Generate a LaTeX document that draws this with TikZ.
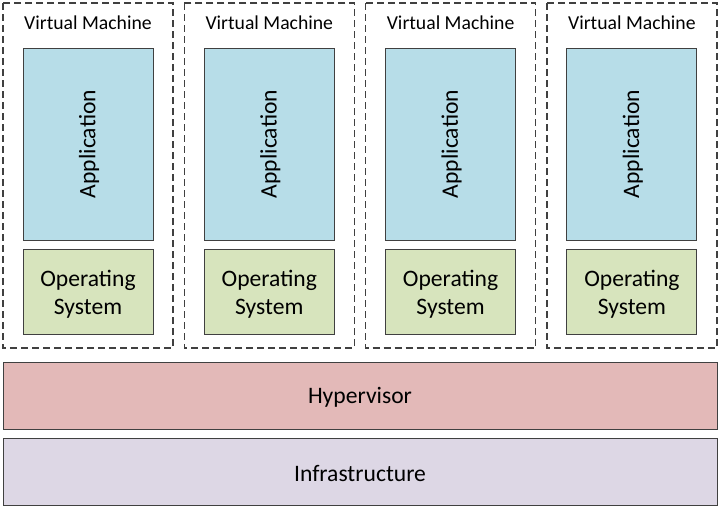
\documentclass[tikz,border=0pt]{standalone}
\usepackage{fontspec}
\setmainfont{Carlito}
\definecolor{appfill}{HTML}{B7DDE8}
\definecolor{osfill}{HTML}{D7E4BD}
\definecolor{hypfill}{HTML}{E3B9B8}
\definecolor{infill}{HTML}{DDD7E5}
\definecolor{edge}{HTML}{404040}
\begin{document}
\begin{tikzpicture}[x=1pt,y=-1pt,
  vmbox/.style={draw=edge,line width=1.3pt,dash pattern=on 7pt off 4pt,fill=white},
  layer/.style={draw=edge,line width=1pt},
  big/.style={font=\fontsize{23.6}{28}\selectfont},
  small/.style={font=\fontsize{19.7}{22}\selectfont}]
\useasboundingbox (0,0) rectangle (720,509);
\fill[white] (0,0) rectangle (720,509);
\foreach \i/\x in {1/3,2/184.3,3/365.6,4/546.9}{
  \draw[vmbox] (\x,3) rectangle ++(170,345);
  \node[small,anchor=center] (vm\i) at (\x+85,23) {Virtual Machine};
  \draw[layer,fill=appfill] (\x+20,48) rectangle ++(130,192);
  \node[big,rotate=90] (app\i) at (\x+86,144) {Application};
  \draw[layer,fill=osfill] (\x+20,249) rectangle ++(130,85);
  \node[big,align=center,text width=125pt] (os\i) at (\x+85,294) {Operating\\System};
}
\draw[layer,fill=hypfill] (3,362) rectangle (717,429);
\node[big] (hyp) at (360,397) {Hypervisor};
\draw[layer,fill=infill] (3,438) rectangle (717,505);
\node[big] (inf) at (360,473) {Infrastructure};
\end{tikzpicture}
\end{document}
